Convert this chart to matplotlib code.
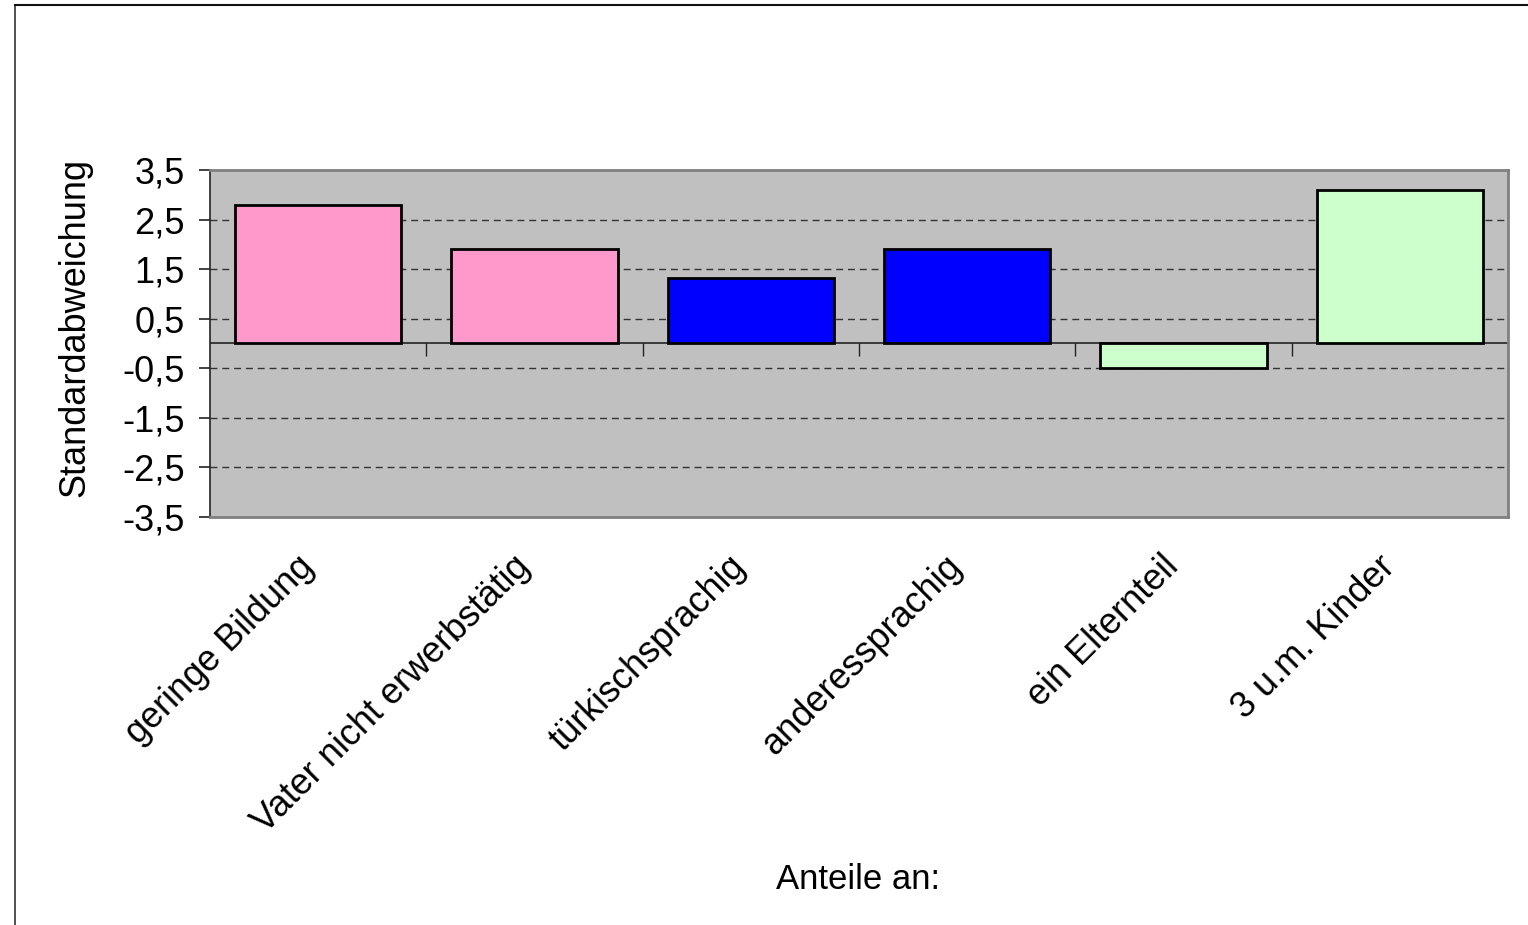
import numpy as np
import matplotlib
matplotlib.use('Agg')
from matplotlib import pyplot as plt
from matplotlib.lines import Line2D
from matplotlib.transforms import ScaledTranslation

plt.rcParams['font.family'] = ['Liberation Sans', 'DejaVu Sans']

categories = ['geringe Bildung', 'Vater nicht erwerbstätig', 'türkischsprachig',
              'anderessprachig', 'ein Elternteil', '3 u.m. Kinder']
values = [2.80, 1.91, 1.32, 1.91, -0.50, 3.09]
colors = ['#FF99CC', '#FF99CC', '#0000FF', '#0000FF', '#CCFFCC', '#CCFFCC']
yticks = [3.5, 2.5, 1.5, 0.5, -0.5, -1.5, -2.5, -3.5]
ytick_labels = ['3,5', '2,5', '1,5', '0,5', '-0,5', '-1,5', '-2,5', '-3,5']

fs = 26

fig = plt.figure(figsize=(15.28, 9.25), dpi=100)
ax = fig.add_axes([0.1374, 0.4411, 0.8495, 0.3751])
ax.set_facecolor('#C0C0C0')

x = np.arange(len(categories))
ax.set_xlim(-0.5, len(categories) - 0.5)
ax.set_ylim(-3.5, 3.5)

# dashed gridlines, zero line acts as category axis
for t in yticks[1:-1]:
    ax.axhline(t, color='#333333', linestyle=(0, (5, 3.5)), linewidth=1.0, zorder=1)
ax.axhline(0, color='#222222', linewidth=1.2, zorder=2)

ax.bar(x, values, width=0.77, color=colors, edgecolor='black', linewidth=2.0, zorder=3)

# category separator ticks hanging below the zero line
ax.vlines(np.arange(0.5, len(categories)), -0.26, 0, color='#222222', linewidth=1.0, zorder=2)

ax.set_yticks(yticks)
ax.set_yticklabels(ytick_labels, fontsize=fs)
ax.tick_params(axis='y', direction='out', length=8, width=1.2, color='#222222', pad=10)

ax.set_xticks(x)
ax.set_xticklabels(categories, fontsize=fs, rotation=45, ha='right',
                   va='center', rotation_mode='anchor')
ax.tick_params(axis='x', length=0, pad=32)
shift = ScaledTranslation(-10 / 100, 0, fig.dpi_scale_trans)
for lbl in ax.get_xticklabels():
    lbl.set_transform(lbl.get_transform() + shift)

for side in ['top', 'right', 'bottom']:
    ax.spines[side].set_color('#808080')
    ax.spines[side].set_linewidth(2.0)
ax.spines['left'].set_color('#222222')
ax.spines['left'].set_linewidth(1.2)

ax.set_ylabel('Standardabweichung', fontsize=fs, va='center')
ax.yaxis.set_label_coords(-0.104, 0.545)
fig.text(0.5615, 0.049, 'Anteile an:', fontsize=25, ha='center', va='center')

# chart area frame
fig.add_artist(Line2D([0.0098, 0.0098], [0.0, 0.9946], color='#333333', linewidth=1.2,
                      transform=fig.transFigure))
fig.add_artist(Line2D([0.0098, 1.0], [0.9946, 0.9946], color='#111111', linewidth=1.5,
                      transform=fig.transFigure))

fig.savefig('out.png', dpi=100, facecolor='white')
